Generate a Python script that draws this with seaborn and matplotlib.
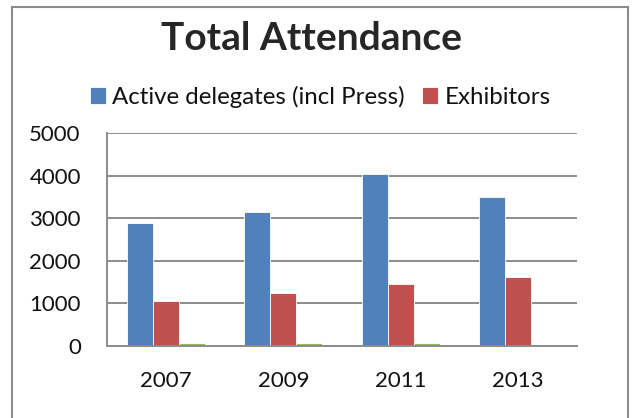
import pandas as pd
import seaborn as sns
import matplotlib.pyplot as plt
from matplotlib.patches import Rectangle

years = ["2007", "2009", "2011", "2013"]
delegates = [2880, 3140, 4050, 3500]
exhibitors = [1060, 1250, 1450, 1610]
other = [60, 60, 60, 0]  # small unlabeled series

series_names = ["Active delegates (incl Press)", "Exhibitors", "Other"]
colors = ["#4F81BD", "#C0504D", "#9BBB59"]

df = pd.DataFrame({
    "Year": years * 3,
    "Value": delegates + exhibitors + other,
    "Series": [series_names[0]] * 4 + [series_names[1]] * 4 + [series_names[2]] * 4,
})

sns.set_style("white")
plt.rcParams["font.family"] = ["Lato", "DejaVu Sans"]

fig = plt.figure(figsize=(6.38, 4.18), dpi=100)
ax = fig.add_axes([0.168, 0.173, 0.736, 0.508])

sns.barplot(data=df, x="Year", y="Value", hue="Series", palette=colors,
            width=0.667, ax=ax, legend=False, saturation=1,
            edgecolor="white", linewidth=0.6)

ax.set_ylim(0, 5000)
ax.set_xlim(-0.5, 3.5)
ax.set_yticks([0, 1000, 2000, 3000, 4000, 5000])
ax.yaxis.grid(True, color="#8c8c8c", linewidth=1.4)
ax.set_axisbelow(True)
ax.set_xlabel("")
ax.set_ylabel("")
for s in ["top", "right"]:
    ax.spines[s].set_visible(False)
for s in ["left", "bottom"]:
    ax.spines[s].set_color("#8c8c8c")
    ax.spines[s].set_linewidth(1.4)
ax.tick_params(axis="y", length=0, pad=19, labelsize=16, labelcolor="#111111")
ax.tick_params(axis="x", length=0, pad=18, labelsize=16, labelcolor="#111111")

handles = [ax.containers[0].patches[0], ax.containers[1].patches[0]]
fig.legend(handles, series_names[:2], loc="center", bbox_to_anchor=(0.502, 0.768),
           ncol=2, frameon=False, fontsize=17.3, handlelength=0.68, handleheight=0.68,
           handletextpad=0.25, columnspacing=0.7, labelcolor="#111111")

fig.text(0.488, 0.880, "Total Attendance", ha="center", va="baseline",
         fontsize=28, fontweight="bold")

fig.patches.append(Rectangle((12 / 638, -0.05), (628 - 12) / 638, 1.05 - 7 / 418,
                             transform=fig.transFigure, fill=False,
                             edgecolor="#8c8c8c", linewidth=1.5))

fig.savefig("out.png", dpi=100)
